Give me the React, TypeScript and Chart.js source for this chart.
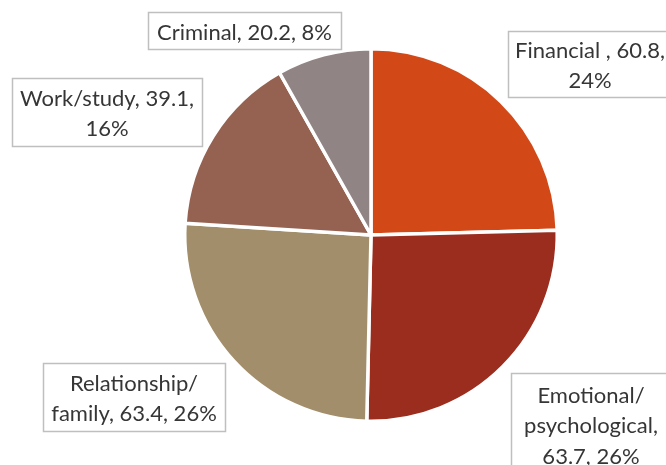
import React, { useEffect, useRef } from "react";
import { Chart, registerables } from "chart.js";

Chart.register(...registerables);

const categories = ["Financial ", "Emotional/ psychological", "Relationship/ family", "Work/study", "Criminal"];
const values = [60.8, 63.7, 63.4, 39.1, 20.2];
const percentLabels = ["24%", "26%", "26%", "16%", "8%"];
const colors = ["#D34817", "#9B2D1F", "#A28E6A", "#956251", "#918485"];

// label box layout (x, y, w, h, wrap width)
const labelBoxes = [
  { x: 508, y: 31, w: 164, h: 66, wrap: 160 },
  { x: 511, y: 373, w: 160, h: 102, wrap: 150 },
  { x: 43, y: 363, w: 182, h: 68, wrap: 185 },
  { x: 12, y: 78, w: 190, h: 68, wrap: 185 },
  { x: 148, y: 12, w: 193, h: 37, wrap: 999 },
];

const FONT = "22px Lato";
const LINE = 30.5;

function wrapText(ctx: CanvasRenderingContext2D, text: string, max: number): string[] {
  const pieces = text.match(/[^ \/]*[ \/]|[^ \/]+$/g) || [text];
  const lines: string[] = [];
  let line = "";
  for (const p of pieces) {
    const test = line + p;
    if (line && ctx.measureText(test.trimEnd()).width > max) {
      lines.push(line.trimEnd());
      line = p;
    } else {
      line = test;
    }
  }
  if (line.trim()) lines.push(line.trimEnd());
  return lines;
}

const labelPlugin = {
  id: "boxLabels",
  afterDatasetsDraw(chart: any) {
    const ctx: CanvasRenderingContext2D = chart.ctx;
    ctx.save();
    ctx.font = FONT;
    ctx.textAlign = "center";
    ctx.textBaseline = "middle";
    categories.forEach((cat, i) => {
      const b = labelBoxes[i];
      const text = `${cat.replace("/ ", "/")}, ${values[i]}, ${percentLabels[i]}`;
      ctx.fillStyle = "#ffffff";
      ctx.fillRect(b.x, b.y, b.w, b.h);
      ctx.strokeStyle = "#bfbfbf";
      ctx.lineWidth = 1.5;
      ctx.strokeRect(b.x + 0.5, b.y + 0.5, b.w, b.h);
      const lines = wrapText(ctx, text, b.wrap);
      const cx = b.x + b.w / 2;
      const cy = b.y + b.h / 2 + 2;
      ctx.fillStyle = "#363636";
      lines.forEach((ln, k) => {
        ctx.fillText(ln, cx, cy + (k - (lines.length - 1) / 2) * LINE);
      });
    });
    ctx.restore();
  },
};

export default function App() {
  const ref = useRef<HTMLCanvasElement | null>(null);
  useEffect(() => {
    if (!ref.current) return;
    const chart = new Chart(ref.current, {
      type: "pie",
      data: {
        labels: categories,
        datasets: [
          {
            data: values,
            backgroundColor: colors,
            borderColor: "#ffffff",
            borderWidth: 3.5,
          },
        ],
      },
      options: {
        responsive: false,
        animation: false,
        events: [],
        layout: { padding: { left: 183, right: 107, top: 47, bottom: 42 } },
        plugins: {
          legend: { display: false },
          tooltip: { enabled: false },
        },
      },
      plugins: [labelPlugin],
    });
    return () => chart.destroy();
  }, []);
  return (
    <div style={{ position: "absolute", left: 0, top: 0, width: 666, height: 465, background: "#fff", overflow: "hidden" }}>
      <canvas ref={ref} width={666} height={465} />
    </div>
  );
}
